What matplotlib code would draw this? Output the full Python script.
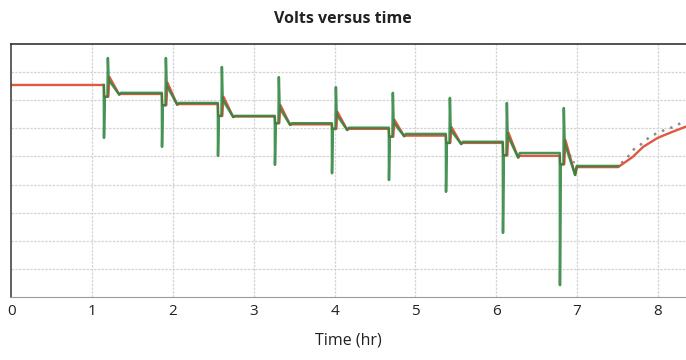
import numpy as np
import matplotlib.pyplot as plt

# values (time in hours, volts)
cycle_start = [1.145, 1.863, 2.556, 3.261, 3.967, 4.672, 5.378, 6.083, 6.788]
level_before = [14.27, 14.13, 13.95, 13.72, 13.59, 13.51, 13.40, 13.26, 13.06]
level_after = [14.13, 13.95, 13.72, 13.59, 13.51, 13.40, 13.26, 13.06, 12.83]
red_level_after = [14.11, 13.93, 13.71, 13.57, 13.49, 13.37, 13.24, 13.01, 12.81]
step_volts = [14.06, 13.91, 13.72, 13.59, 13.49, 13.35, 13.24, 13.02, 12.86]
green_low = [13.33, 13.17, 13.01, 12.85, 12.70, 12.58, 12.37, 11.64, 10.71]
green_high = [14.75, 14.75, 14.59, 14.41, 14.23, 14.13, 14.04, 13.95, 13.86]
red_peak = [14.41, 14.31, 14.06, 13.91, 13.79, 13.65, 13.52, 13.42, 13.29]
decay_dip = [14.10, 13.92, 13.70, 13.56, 13.47, 13.36, 13.22, 12.98, 12.67]

hold_end = 7.51
recovery_t = [7.51, 7.69, 7.82, 8.00, 8.17, 8.35]
recovery_v = [12.81, 12.99, 13.17, 13.33, 13.43, 13.53]
model_t = [7.55, 7.62, 7.69, 7.78, 7.87, 7.94, 8.03, 8.11, 8.19, 8.27, 8.35]
model_v = [12.88, 12.97, 13.11, 13.20, 13.31, 13.38, 13.43, 13.49, 13.52, 13.58, 13.63]
model_spike_t = [6.86, 6.95, 7.01]
model_spike_v = [13.15, 12.95, 12.67]

hours = np.arange(0, 9)

# assemble the two traces from the per-cycle readings
red_t, red_v = [0.0], [level_before[0]]
green_t, green_v = [], []
for i, ts in enumerate(cycle_start):
    red_t += [ts, ts + 0.005, ts + 0.055, ts + 0.07, ts + 0.19, ts + 0.21]
    red_v += [level_before[i] if i == 0 else red_level_after[i - 1], step_volts[i],
              step_volts[i], red_peak[i], decay_dip[i], red_level_after[i]]
    green_t += [ts, ts + 0.002, ts + 0.012, ts + 0.045, ts + 0.05, ts + 0.06,
                ts + 0.19, ts + 0.21]
    green_v += [level_before[i], green_low[i], step_volts[i], step_volts[i],
                green_high[i], red_peak[i] - 0.05, decay_dip[i], level_after[i]]
green_t.append(hold_end)
green_v.append(level_after[-1])
red_t += recovery_t
red_v += recovery_v

fig = plt.figure(figsize=(6.86, 3.6), dpi=100)
ax = fig.add_axes([0.0165, 0.175, 0.9835, 0.703])

grid_kw = dict(color='#d4d4d4', linewidth=0.9, linestyle=(0, (2, 1)))
for h in hours[1:]:
    ax.axvline(h, **grid_kw, zorder=0)
for v in np.arange(10.5, 15.01, 0.5)[1:-1]:
    ax.axhline(v, **grid_kw, zorder=0)

ax.plot(red_t, red_v, color='#e2573f', linewidth=1.7, zorder=2)
ax.plot(green_t, green_v, color='#2f8540', linewidth=1.8, alpha=0.88, zorder=3)
ax.plot(model_t, model_v, color='#8a8a8a', linewidth=1.8, linestyle=(0, (1, 2.5)), zorder=1)
ax.plot(model_spike_t, model_spike_v, color='#8a8a8a', linewidth=1.4,
        linestyle=(0, (1, 3)), zorder=1)

ax.set_xlim(0, 8.35)
ax.set_ylim(10.5, 15.0)
ax.set_xticks(hours)
ax.set_xticklabels([str(h) for h in hours], fontfamily='Open Sans', fontsize=11, color='#222222')
ax.set_yticks([])
ax.tick_params(axis='x', length=0, pad=5)

ax.spines['right'].set_visible(False)
ax.spines['left'].set_color('#444444')
ax.spines['top'].set_color('#333333')
ax.spines['bottom'].set_color('#9a9a9a')
ax.spines['left'].set_linewidth(1.2)
ax.spines['top'].set_linewidth(1.2)

ax.set_xlabel('Time (hr)', fontfamily='Open Sans', fontsize=11.5, color='#222222', labelpad=10)
fig.suptitle('Volts versus time', fontfamily='Open Sans', fontweight='bold',
             fontsize=11.5, color='#222222', x=0.5, y=0.97)

fig.savefig('out.png', dpi=100)
